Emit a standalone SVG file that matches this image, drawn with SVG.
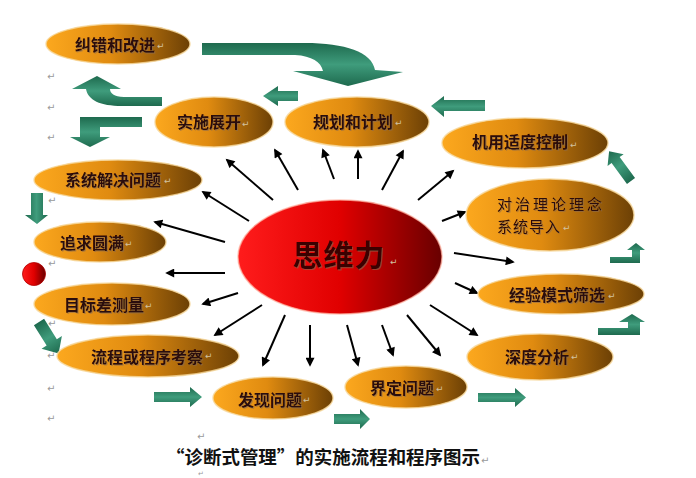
<svg xmlns="http://www.w3.org/2000/svg" width="696" height="478" viewBox="0 0 696 478">
<style>
.node ellipse.o{fill:url(#og);stroke:#f6d79a;stroke-width:1.5;stroke-opacity:.8}
.lbl{font-family:"Noto Sans CJK SC","Noto Sans",sans-serif;font-weight:700;font-size:16px;fill:#2a0707;text-anchor:middle;filter:url(#ts)}
.lbl2{font-family:"Noto Sans CJK SC","Noto Sans",sans-serif;font-weight:400;font-size:15px;fill:#2a0707;filter:url(#ts)}
.pm{font-family:"DejaVu Sans",sans-serif;font-size:10px;fill:#9a9a9a}
.pmf{font-family:"DejaVu Sans",sans-serif;font-size:9px;fill:#d2c2a0}
#connectors line{stroke:#000;stroke-width:2;marker-end:url(#ah)}
.gA{fill:url(#gh)}
.gV{fill:url(#gv)}
</style>
<defs>
<linearGradient id="og" x1="0" y1="0" x2="1" y2="0"><stop offset="0" stop-color="#fca81e"/><stop offset="0.45" stop-color="#e08b10"/><stop offset="1" stop-color="#6c4005"/></linearGradient>
<linearGradient id="rg" x1="0" y1="0" x2="1" y2="0"><stop offset="0" stop-color="#ff1c1c"/><stop offset="0.5" stop-color="#e00000"/><stop offset="1" stop-color="#680000"/></linearGradient>
<linearGradient id="gh" x1="0" y1="0" x2="0" y2="1"><stop offset="0" stop-color="#1e6a4e"/><stop offset="0.5" stop-color="#3f9c7c"/><stop offset="1" stop-color="#1e6a4e"/></linearGradient>
<linearGradient id="gv" x1="0" y1="0" x2="1" y2="0"><stop offset="0" stop-color="#1e6a4e"/><stop offset="0.5" stop-color="#3f9c7c"/><stop offset="1" stop-color="#1e6a4e"/></linearGradient>
<filter id="ts" x="-10%" y="-30%" width="120%" height="160%"><feDropShadow dx="1" dy="1" stdDeviation="0.6" flood-color="#8a6a50" flood-opacity="0.6"/></filter>
<marker id="ah" viewBox="0 0 10 10" refX="8" refY="5" markerWidth="5" markerHeight="4.5" orient="auto"><path d="M0,0 L10,5 L0,10 z" fill="#000"/></marker>
</defs>
<rect width="696" height="478" fill="#ffffff"/>

<!-- green process arrows -->
<g id="flow-arrows">
<path class="gA" d="M202,43 L305,43 C345,43 372,52 375,70 L403,72 L348,86 L293,71 L323,71 C321,62 312,56 295,55 L202,55 Z"/>
<path class="gA" d="M298,91 L278,91 L278,86 L263,96 L278,106 L278,101 L298,101 Z"/>
<path class="gA" d="M485,100 L444,100 L444,96 L431,106 L444,117 L444,111 L485,111 Z"/>
<path class="gA" d="M162,97 L124,97 C114,97 110,93 110,89 L121,89 L97,76 L72,89 L86,89 C88,100 100,106 122,106 L162,106 Z"/>
<path class="gA" d="M142,117 L80,117 L80,137 L70,137 L90,147 L110,137 L100,137 L100,127 L142,127 Z"/>
<path class="gV" d="M31,193 L43,193 L43,215 L48,215 L37,224 L25,215 L31,215 Z"/>
<g transform="translate(39,322) rotate(58)"><path class="gV" d="M0,-6 L24,-6 L24,-12 L37,0 L24,12 L24,6 L0,6 Z"/></g>
<path class="gA" d="M154,392 L190,392 L190,387 L202,397 L190,407 L190,402 L154,402 Z"/>
<path class="gA" d="M334,414 L360,414 L360,409 L370,419 L360,429 L360,424 L334,424 Z"/>
<path class="gA" d="M478,393 L515,393 L515,388 L526,397.5 L515,407 L515,402 L478,402 Z"/>
<path class="gA" d="M598,328 L628,328 L628,322 L619,322 L632,314 L645,322 L640,322 L640,335 L598,335 Z"/>
<path class="gA" d="M610,257 L632,257 L632,250 L627,250 L636,243 L645,250 L640,250 L640,263 L610,263 Z"/>
<g transform="translate(631,181) rotate(-126.3)"><path class="gV" d="M0,-5 L26,-5 L26,-10 L37,0 L26,10 L26,5 L0,5 Z"/></g>
</g>

<!-- radiating connectors -->
<g id="connectors">
<line x1="273" y1="200" x2="227" y2="160"/>
<line x1="298" y1="190" x2="275" y2="150"/>
<line x1="334" y1="179" x2="323" y2="150"/>
<line x1="358" y1="179" x2="358" y2="151"/>
<line x1="382" y1="190" x2="403" y2="151"/>
<line x1="418" y1="200" x2="453" y2="171"/>
<line x1="442" y1="221" x2="465" y2="212"/>
<line x1="454" y1="253" x2="513" y2="262"/>
<line x1="455" y1="283" x2="477" y2="293"/>
<line x1="430" y1="305" x2="477" y2="335"/>
<line x1="407" y1="315" x2="440" y2="355"/>
<line x1="382" y1="325" x2="393" y2="355"/>
<line x1="347" y1="325" x2="358" y2="365"/>
<line x1="310" y1="325" x2="310" y2="365"/>
<line x1="285" y1="315" x2="263" y2="365"/>
<line x1="262" y1="305" x2="215" y2="335"/>
<line x1="238" y1="293" x2="203" y2="304"/>
<line x1="225" y1="273" x2="167" y2="273"/>
<line x1="225" y1="242" x2="155" y2="222"/>
<line x1="249" y1="221" x2="203" y2="192"/>
</g>

<g id="n-center" class="node">
<ellipse cx="340" cy="257" rx="102" ry="57" fill="url(#rg)" stroke="#ffb0a0" stroke-width="1.5" stroke-opacity=".7"/>
<text x="339" y="266" font-family="'Noto Sans CJK SC','Noto Sans',sans-serif" font-size="30" font-weight="700" fill="#3a0404" text-anchor="middle" letter-spacing="1" filter="url(#ts)">思维力</text>
<text x="390" y="265" class="pmf">↵</text>
</g>

<g id="n-jiucuo" class="node"><ellipse class="o" cx="118" cy="44" rx="72" ry="20"/><text class="lbl" x="115" y="51">纠错和改进</text><text x="157" y="49" class="pmf">↵</text></g>
<g id="n-shishi" class="node"><ellipse class="o" cx="214" cy="122" rx="59" ry="25"/><text class="lbl" x="209" y="128">实施展开</text><text x="242" y="127" class="pmf">↵</text></g>
<g id="n-guihua" class="node"><ellipse class="o" cx="357" cy="122" rx="72" ry="25"/><text class="lbl" x="353" y="128">规划和计划</text><text x="395" y="126" class="pmf">↵</text></g>
<g id="n-jiyong" class="node"><ellipse class="o" cx="525" cy="143" rx="83" ry="25"/><text class="lbl" x="520" y="148">机用适度控制</text><text x="570" y="148" class="pmf">↵</text></g>
<g id="n-duizhi" class="node"><ellipse class="o" cx="550" cy="215" rx="84" ry="36"/><text class="lbl2" x="497" y="210" letter-spacing="3">对治理论理念</text><text class="lbl2" x="497" y="232" letter-spacing="1">系统导入</text><text x="563" y="231" class="pmf">↵</text></g>
<g id="n-jingyan" class="node"><ellipse class="o" cx="561" cy="294" rx="83" ry="20"/><text class="lbl" x="557" y="301">经验模式筛选</text><text x="608" y="299" class="pmf">↵</text></g>
<g id="n-shendu" class="node"><ellipse class="o" cx="540" cy="357" rx="73" ry="23"/><text class="lbl" x="537" y="363">深度分析</text><text x="571" y="360" class="pmf">↵</text></g>
<g id="n-jieding" class="node"><ellipse class="o" cx="406" cy="387" rx="61" ry="21"/><text class="lbl" x="402" y="394">界定问题</text><text x="436" y="392" class="pmf">↵</text></g>
<g id="n-faxian" class="node"><ellipse class="o" cx="273" cy="398" rx="60" ry="21"/><text class="lbl" x="270" y="406">发现问题</text><text x="303" y="403" class="pmf">↵</text></g>
<g id="n-liucheng" class="node"><ellipse class="o" cx="148" cy="356" rx="91" ry="21"/><text class="lbl" x="147" y="363">流程或程序考察</text><text x="205" y="359" class="pmf">↵</text></g>
<g id="n-mubiao" class="node"><ellipse class="o" cx="112" cy="304" rx="78" ry="21"/><text class="lbl" x="104" y="311">目标差测量</text><text x="145" y="309" class="pmf">↵</text></g>
<g id="n-zhuiqiu" class="node"><ellipse class="o" cx="100" cy="242" rx="66" ry="20"/><text class="lbl" x="92" y="249">追求圆满</text><text x="125" y="247" class="pmf">↵</text></g>
<g id="n-xitong" class="node"><ellipse class="o" cx="118" cy="180" rx="84" ry="20"/><text class="lbl" x="113" y="186">系统解决问题</text><text x="164" y="184" class="pmf">↵</text></g>

<g id="dot"><circle cx="34" cy="274" r="11.5" fill="url(#rg)" stroke="#b00000" stroke-width="0.8"/></g>

<g id="para-marks">
<text x="47" y="80" class="pm">↵</text>
<text x="47" y="111" class="pm">↵</text>
<text x="47" y="141" class="pm">↵</text>
<text x="48" y="204" class="pm">↵</text>
<text x="48" y="267" class="pm">↵</text>
<text x="48" y="327" class="pm">↵</text>
<text x="47" y="359" class="pm">↵</text>
<text x="47" y="392" class="pm">↵</text>
<text x="47" y="422" class="pm">↵</text>
<text x="197" y="440" class="pm">↵</text>
<text x="198" y="476" class="pm" style="font-size:7px">↵</text>
<text x="481" y="464" class="pm">↵</text>
</g>

<g id="title">
<text x="166" y="464" font-family="'Noto Sans CJK SC','Noto Sans',sans-serif" font-size="18" font-weight="700" fill="#111" textLength="314" lengthAdjust="spacingAndGlyphs">“诊断式管理”的实施流程和程序图示</text>
</g>
</svg>
